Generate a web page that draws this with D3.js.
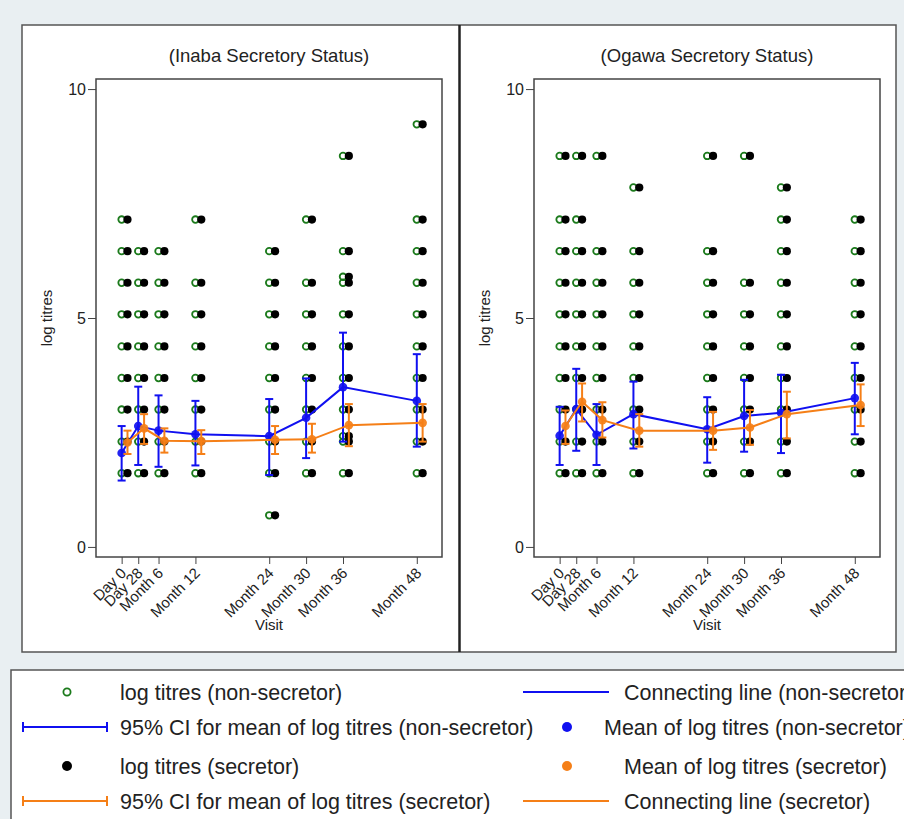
<!DOCTYPE html>
<html>
<head>
<meta charset="utf-8">
<script src="https://cdn.jsdelivr.net/npm/d3@7"></script>
<style>
  body { margin: 0; background: #e9eff2; }
  text { font-family: "Liberation Sans", Arial, sans-serif; }
</style>
</head>
<body>
<svg id="chart" width="904" height="819"></svg>
<script>
// visits and where they sit on the x axis (months)
var visits = ["Day 0", "Day 28", "Month 6", "Month 12", "Month 24", "Month 30", "Month 36", "Month 48"];
var visitPos = [0, 2.7, 6, 12, 24, 30, 36, 48];
var yTicks = [0, 5, 10];

// observed log titre levels per visit (both groups)
var inabaTitres = [
  [1.61, 2.30, 3.00, 3.69, 4.38, 5.08, 5.77, 6.46, 7.15],
  [1.61, 2.30, 3.00, 3.69, 4.38, 5.08, 5.77, 6.46],
  [1.61, 2.30, 3.00, 3.69, 4.38, 5.08, 5.77, 6.46],
  [1.61, 2.30, 3.00, 3.69, 4.38, 5.08, 5.77, 7.15],
  [0.69, 1.61, 2.30, 3.00, 3.69, 4.38, 5.08, 5.77, 6.46],
  [1.61, 2.30, 3.00, 3.69, 4.38, 5.08, 5.77, 7.15],
  [1.61, 2.30, 2.42, 3.00, 3.69, 4.38, 5.08, 5.77, 5.90, 6.46, 8.54],
  [1.61, 2.30, 3.00, 3.69, 4.38, 5.08, 5.77, 6.46, 7.15, 9.23]
];
var ogawaTitres = [
  [1.61, 2.30, 3.00, 3.69, 4.38, 5.08, 5.77, 6.46, 7.15, 8.54],
  [1.61, 2.30, 3.00, 3.69, 4.38, 5.08, 5.77, 6.46, 7.15, 8.54],
  [1.61, 2.30, 3.00, 3.69, 4.38, 5.08, 5.77, 6.46, 8.54],
  [1.61, 2.30, 3.00, 3.69, 4.38, 5.08, 5.77, 6.46, 7.85],
  [1.61, 2.30, 3.00, 3.69, 4.38, 5.08, 5.77, 6.46, 8.54],
  [1.61, 2.30, 3.00, 3.69, 4.38, 5.08, 5.77, 8.54],
  [1.61, 2.30, 3.00, 3.69, 4.38, 5.08, 5.77, 6.46, 7.15, 7.85],
  [1.61, 2.30, 3.00, 3.69, 4.38, 5.08, 5.77, 6.46, 7.15]
];

// means and 95% CI
var inabaNsMean = [2.05, 2.64, 2.54, 2.46, 2.42, 2.82, 3.49, 3.19];
var inabaNsLo   = [1.45, 1.79, 1.75, 1.78, 1.57, 1.94, 2.30, 2.19];
var inabaNsHi   = [2.64, 3.50, 3.31, 3.19, 3.23, 3.68, 4.68, 4.21];
var inabaSeMean = [2.28, 2.59, 2.32, 2.31, 2.34, 2.35, 2.66, 2.71];
var inabaSeLo   = [2.03, 2.25, 2.06, 2.03, 2.03, 2.06, 2.20, 2.30];
var inabaSeHi   = [2.54, 2.90, 2.59, 2.55, 2.64, 2.69, 3.12, 3.12];

var ogawaNsMean = [2.43, 3.01, 2.45, 2.90, 2.57, 2.86, 2.93, 3.25];
var ogawaNsLo   = [1.79, 2.10, 1.79, 2.15, 1.84, 2.08, 2.05, 2.46];
var ogawaNsHi   = [3.06, 3.89, 3.12, 3.61, 3.27, 3.65, 3.76, 4.02];
var ogawaSeMean = [2.64, 3.17, 2.77, 2.54, 2.54, 2.61, 2.90, 3.10];
var ogawaSeLo   = [2.25, 2.74, 2.39, 2.19, 2.12, 2.23, 2.37, 2.64];
var ogawaSeHi   = [2.98, 3.57, 3.16, 2.90, 2.95, 2.99, 3.39, 3.55];

var legendItems = [
  ["openDot", "log titres (non-secretor)", "blueLine", "Connecting line (non-secretor)"],
  ["blueCI", "95% CI for mean of log titres (non-secretor)", "blueDot", "Mean of log titres (non-secretor)"],
  ["blackDot", "log titres (secretor)", "orangeDot", "Mean of log titres (secretor)"],
  ["orangeCI", "95% CI for mean of log titres (secretor)", "orangeLine", "Connecting line (secretor)"]
];

var GREEN = "#1b7a1b", BLUE = "#1010f0", ORANGE = "#f57f17";
var secShift = 0.95; // secretor markers are nudged right

var svg = d3.select("#chart");

// outer panels
svg.append("rect").attr("x", 22).attr("y", 25).attr("width", 874).attr("height", 627)
  .attr("fill", "#fff").attr("stroke", "#555").attr("stroke-width", 1.5);
svg.append("line").attr("x1", 459.5).attr("x2", 459.5).attr("y1", 25).attr("y2", 652)
  .attr("stroke", "#222").attr("stroke-width", 2.5);

var panels = [
  {title: "(Inaba Secretory Status)", left: 96, titres: inabaTitres,
   ns: [inabaNsMean, inabaNsLo, inabaNsHi], se: [inabaSeMean, inabaSeLo, inabaSeHi]},
  {title: "(Ogawa Secretory Status)", left: 534, titres: ogawaTitres,
   ns: [ogawaNsMean, ogawaNsLo, ogawaNsHi], se: [ogawaSeMean, ogawaSeLo, ogawaSeHi]}
];

var plotW = 346, plotTop = 79, plotBot = 557, plotH = plotBot - plotTop;

panels.forEach(function(p){
  var x = d3.scaleLinear().domain([-4.17, 52.1]).range([0, plotW]);
  var y = d3.scaleLinear().domain([-0.22, 10.22]).range([plotH, 0]);
  var g = svg.append("g").attr("transform", "translate(" + p.left + "," + plotTop + ")");

  svg.append("text").attr("x", p.left + plotW / 2).attr("y", 62)
    .attr("text-anchor", "middle").attr("font-size", 18.5).attr("fill", "#222")
    .text(p.title);

  g.append("rect").attr("width", plotW).attr("height", plotH)
    .attr("fill", "#fff").attr("stroke", "#444").attr("stroke-width", 1.5);

  // y axis
  var yAxis = g.append("g").call(d3.axisLeft(y).tickValues(yTicks).tickSize(8).tickFormat(d3.format("d")));
  yAxis.select(".domain").remove();
  yAxis.selectAll("line").attr("stroke", "#444");
  yAxis.selectAll("text").attr("font-size", 16).attr("fill", "#222").attr("x", -10)
    .style("font-family", "Liberation Sans, Arial, sans-serif");

  g.append("text").attr("transform", "translate(-44," + plotH / 2 + ") rotate(-90)")
    .attr("text-anchor", "middle").attr("font-size", 15).attr("fill", "#222").text("log titres");

  // x axis
  var xAxis = g.append("g").attr("transform", "translate(0," + plotH + ")")
    .call(d3.axisBottom(x).tickValues(visitPos).tickSize(7).tickFormat(function(d, i){ return visits[i]; }));
  xAxis.select(".domain").remove();
  xAxis.selectAll("line").attr("stroke", "#444");
  xAxis.selectAll("text")
    .attr("font-size", 15).attr("fill", "#222")
    .style("font-family", "Liberation Sans, Arial, sans-serif")
    .attr("text-anchor", "end")
    .attr("y", 0).attr("dy", 0)
    .attr("transform", "translate(5,17) rotate(-45)");

  g.append("text").attr("x", plotW / 2).attr("y", plotH + 73).attr("text-anchor", "middle")
    .attr("font-size", 15).attr("fill", "#222").text("Visit");

  // individual titres
  var pts = [];
  p.titres.forEach(function(vals, i){
    vals.forEach(function(v){ pts.push({pos: visitPos[i], v: v}); });
  });
  g.selectAll(".ns").data(pts).enter().append("circle")
    .attr("cx", function(d){ return x(d.pos); }).attr("cy", function(d){ return y(d.v); })
    .attr("r", 3.3).attr("fill", "none").attr("stroke", GREEN).attr("stroke-width", 1.8);
  g.selectAll(".se").data(pts).enter().append("circle")
    .attr("cx", function(d){ return x(d.pos + secShift); }).attr("cy", function(d){ return y(d.v); })
    .attr("r", 4.1).attr("fill", "#000");

  // means, CI and connecting lines
  function drawGroup(stats, shift, col){
    var rows = visitPos.map(function(pos, i){
      return {x: x(pos + shift), m: stats[0][i], lo: stats[1][i], hi: stats[2][i]};
    });
    var ci = g.append("g");
    rows.forEach(function(d){
      ci.append("line").attr("x1", d.x).attr("x2", d.x).attr("y1", y(d.lo)).attr("y2", y(d.hi))
        .attr("stroke", col).attr("stroke-width", 2);
      [d.lo, d.hi].forEach(function(v){
        ci.append("line").attr("x1", d.x - 4).attr("x2", d.x + 4).attr("y1", y(v)).attr("y2", y(v))
          .attr("stroke", col).attr("stroke-width", 2);
      });
    });
    g.append("path").datum(rows)
      .attr("d", d3.line().x(function(d){ return d.x; }).y(function(d){ return y(d.m); }))
      .attr("fill", "none").attr("stroke", col).attr("stroke-width", 2);
    g.selectAll(null).data(rows).enter().append("circle")
      .attr("cx", function(d){ return d.x; }).attr("cy", function(d){ return y(d.m); })
      .attr("r", 4.3).attr("fill", col).attr("fill-opacity", 0.92);
  }
  drawGroup(p.ns, 0, BLUE);
  drawGroup(p.se, secShift, ORANGE);
});

// legend
svg.append("rect").attr("x", 11).attr("y", 670).attr("width", 920).attr("height", 170)
  .attr("fill", "#fff").attr("stroke", "#555").attr("stroke-width", 1.5);

var rowY = [692, 727, 766, 801];

function legendSymbol(kind, cx, cy, lineX1, lineX2){
  if (kind === "openDot") {
    svg.append("circle").attr("cx", cx).attr("cy", cy).attr("r", 3.6)
      .attr("fill", "none").attr("stroke", GREEN).attr("stroke-width", 1.8);
  } else if (kind === "blackDot" || kind === "blueDot" || kind === "orangeDot") {
    var c = kind === "blackDot" ? "#000" : (kind === "blueDot" ? BLUE : ORANGE);
    svg.append("circle").attr("cx", cx).attr("cy", cy).attr("r", 5).attr("fill", c);
  } else {
    var col = kind.indexOf("blue") === 0 ? BLUE : ORANGE;
    svg.append("line").attr("x1", lineX1).attr("x2", lineX2).attr("y1", cy).attr("y2", cy)
      .attr("stroke", col).attr("stroke-width", 2);
    if (kind.indexOf("CI") > 0) {
      [lineX1, lineX2].forEach(function(xx){
        svg.append("line").attr("x1", xx).attr("x2", xx).attr("y1", cy - 5).attr("y2", cy + 5)
          .attr("stroke", col).attr("stroke-width", 2);
      });
    }
  }
}

legendItems.forEach(function(it, i){
  var cy = rowY[i];
  legendSymbol(it[0], 67, cy, 23, 107);
  svg.append("text").attr("x", 120).attr("y", cy).attr("dy", "0.35em")
    .attr("font-size", 21.5).attr("fill", "#222").text(it[1]);
  var dotCol = it[2] === "blueDot";
  legendSymbol(it[2], 567, cy, 523, 609);
  svg.append("text").attr("x", dotCol ? 604 : 624).attr("y", cy).attr("dy", "0.35em")
    .attr("font-size", 21.5).attr("fill", "#222").text(it[3]);
});
</script>
</body>
</html>
